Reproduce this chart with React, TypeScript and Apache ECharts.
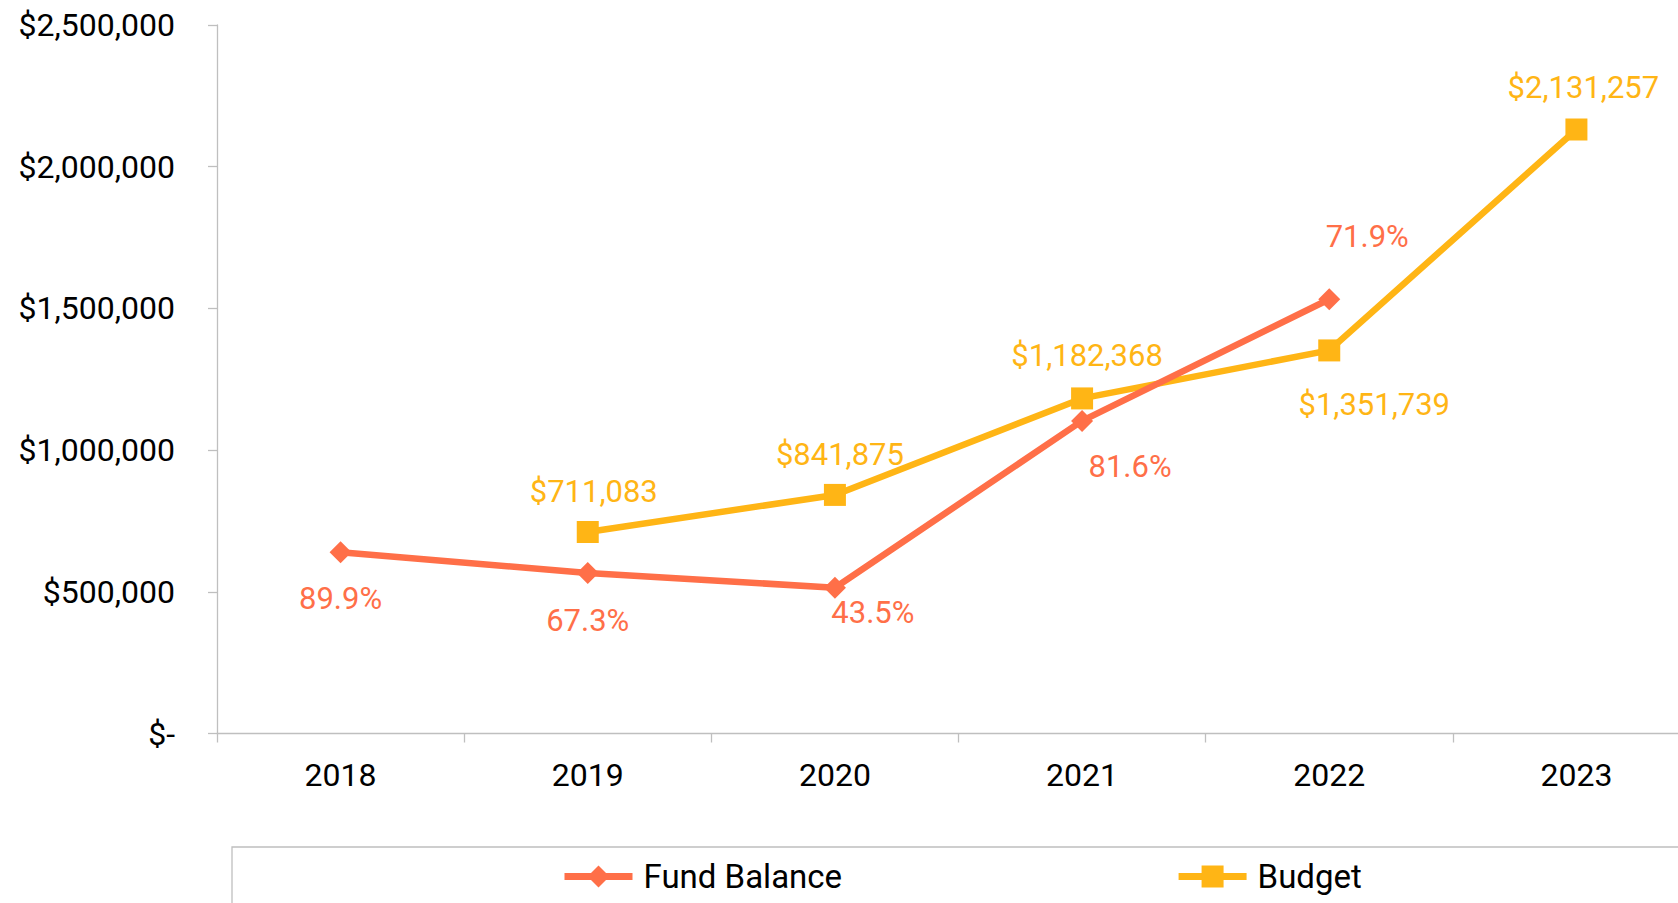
import React, { useEffect, useRef } from "react";
import * as echarts from "echarts";

const years = ["2018", "2019", "2020", "2021", "2022", "2023"];
const fundBalance: (number | null)[] = [639264, 566582, 514330, 1103019, 1532374, null];
const fundPct: (string | null)[] = ["89.9%", "67.3%", "43.5%", "81.6%", "71.9%", null];
const budget: (number | null)[] = [null, 711083, 841875, 1182368, 1351739, 2131257];
const yTicks = [0, 500000, 1000000, 1500000, 2000000, 2500000];

// label placements (offset of label centre from the point)
const fundLabelOffsets: number[][] = [[0, 46], [0, 48], [38, 25], [48, 46], [38, -63], [0, 0]];
const budgetLabelOffsets: number[][] = [[0, 0], [6, -40], [5, -40], [5, -43], [45, 54], [7, -42]];

const ORANGE = "#FF6F48";
const YELLOW = "#FFB515";
const FONT = "Roboto";

function money(v: number): string {
  return "$" + v.toLocaleString("en-US");
}

export default function App() {
  const ref = useRef<HTMLDivElement>(null);
  useEffect(() => {
    if (!ref.current) return;
    const chart = echarts.init(ref.current, null, { renderer: "svg" });
    const fundData = fundBalance.map((v, i) =>
      v == null
        ? null
        : {
            value: v,
            label: {
              show: true,
              position: "inside",
              offset: fundLabelOffsets[i],
              formatter: fundPct[i] as string,
            },
          }
    );
    const budgetData = budget.map((v, i) =>
      v == null
        ? null
        : {
            value: v,
            label: {
              show: true,
              position: "inside",
              offset: budgetLabelOffsets[i],
              formatter: money(v),
            },
          }
    );
    chart.setOption({
      animation: false,
      backgroundColor: "#fff",
      textStyle: { fontFamily: FONT },
      grid: { left: 217, top: 25, bottom: 169.5, right: 0, containLabel: false },
      xAxis: {
        type: "category",
        data: years,
        boundaryGap: true,
        axisLine: { show: true, lineStyle: { color: "#BFBFBF", width: 1.3 } },
        axisTick: { show: true, length: 9, alignWithLabel: false, lineStyle: { color: "#BFBFBF", width: 1.3 } },
        axisLabel: { color: "#000", fontSize: 32, fontFamily: FONT, margin: 25 },
      },
      yAxis: {
        type: "value",
        min: yTicks[0],
        max: yTicks[yTicks.length - 1],
        interval: yTicks[1] - yTicks[0],
        splitLine: { show: false },
        axisLine: { show: true, lineStyle: { color: "#BFBFBF", width: 1.3 } },
        axisTick: { show: true, length: 9, lineStyle: { color: "#BFBFBF", width: 1.3 } },
        axisLabel: {
          color: "#000",
          fontSize: 32,
          fontFamily: FONT,
          margin: 42,
          formatter: (v: number) => (v === 0 ? "$-" : money(v)),
        },
      },
      legend: {
        show: true,
        left: 561,
        top: 860,
        padding: 0,
        itemWidth: 68,
        itemHeight: 27.5,
        itemGap: 333,
        lineStyle: { width: 7 },
        textStyle: { color: "#000", fontSize: 33, fontFamily: FONT, padding: [0, 0, 0, 6] },
        data: ["Fund Balance", "Budget"],
      },
      graphic: [
        {
          type: "rect",
          shape: { x: 232, y: 847, width: 1500, height: 60 },
          style: { fill: "none", stroke: "#BFBFBF", lineWidth: 1.3 },
          silent: true,
        },
      ],
      series: [
        {
          name: "Fund Balance",
          type: "line",
          data: fundData,
          connectNulls: false,
          symbol: "diamond",
          symbolSize: 22,
          lineStyle: { color: ORANGE, width: 6.5 },
          itemStyle: { color: ORANGE },
          label: {
            color: ORANGE,
            fontSize: 31,
            fontFamily: FONT,
            align: "center",
            verticalAlign: "middle",
          },
          z: 3,
        },
        {
          name: "Budget",
          type: "line",
          data: budgetData,
          connectNulls: false,
          symbol: "rect",
          symbolSize: 22,
          lineStyle: { color: YELLOW, width: 6.5 },
          itemStyle: { color: YELLOW },
          label: {
            color: YELLOW,
            fontSize: 31,
            fontFamily: FONT,
            align: "center",
            verticalAlign: "middle",
          },
          z: 2,
        },
      ],
    });
    return () => chart.dispose();
  }, []);
  return (
    <div
      style={{ position: "absolute", left: 0, top: 0, width: 1678, height: 903, overflow: "hidden" }}
    >
      <div ref={ref} style={{ width: 1700, height: 903 }} />
    </div>
  );
}
